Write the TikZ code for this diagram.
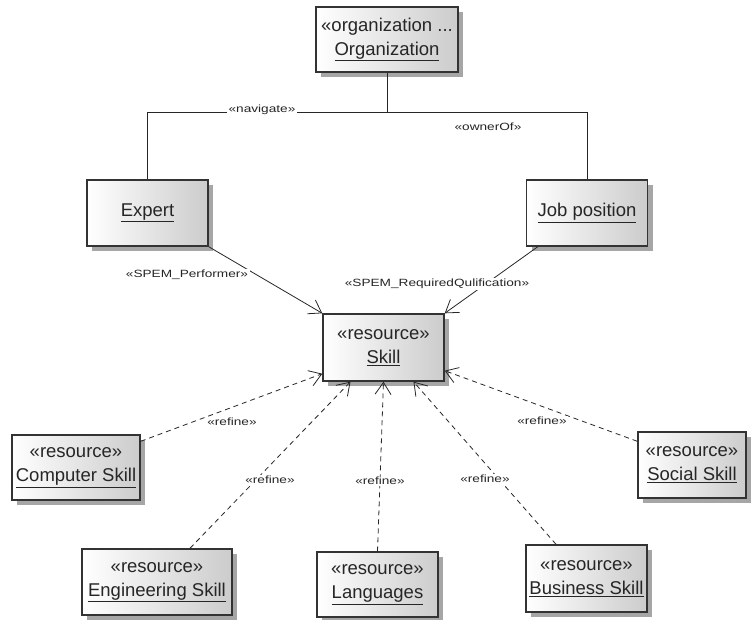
\documentclass[tikz,border=0pt]{standalone}
\usepackage{fontspec}
\setmainfont{Liberation Sans}
\newfontfamily\lblfont[FakeStretch=1.3]{Liberation Sans}
\usetikzlibrary{arrows.meta,shadows}

\begin{document}
\begin{tikzpicture}[x=1pt,y=-1pt]
\tikzstyle{cls}=[draw=black!80,line width=1.4pt,left color=white,right color=black!20,
  drop shadow={shadow xshift=5pt,shadow yshift=-5pt,fill=black!35,opacity=1},
  inner sep=0pt,align=center,text=black!85,font=\fontsize{18.5}{24}\selectfont]
\tikzstyle{lbl}=[fill=white,inner sep=1.5pt,text=black!85,font=\fontsize{10.5}{12}\lblfont]
\tikzstyle{assoc}=[draw=black!85,line width=0.8pt,-{Straight Barb[length=12pt,width=16pt,line width=0.8pt]}]
\tikzstyle{dep}=[assoc,dash pattern=on 5pt off 4pt]
\useasboundingbox (0,0) rectangle (752,619);

\node [cls] (org) at(387,39.5)[minimum width=142pt,minimum height=65pt] {«organization ...\\\underline{Organization}};
\node [cls] (exp) at(147.5,213)[minimum width=121pt,minimum height=66pt] {\underline{Expert}};
\node [cls] (job) at(587,213)[minimum width=121pt,minimum height=66pt] {\underline{Job position}};
\node [cls] (skl) at(383.5,347.5)[minimum width=121pt,minimum height=67pt] {«resource»\\\underline{Skill}};
\node [cls] (cmp) at(76,467.5)[minimum width=128pt,minimum height=65pt] {«resource»\\\underline{Computer Skill}};
\node [cls] (soc) at(692,465)[minimum width=108pt,minimum height=66pt] {«resource»\\\underline{Social Skill}};
\node [cls] (eng) at(157,582)[minimum width=150pt,minimum height=66pt] {«resource»\\\underline{Engineering Skill}};
\node [cls] (lng) at(377.5,584.5)[minimum width=121pt,minimum height=65pt] {«resource»\\\underline{Languages}};
\node [cls] (bus) at(586.5,578.5)[minimum width=121pt,minimum height=67pt] {«resource»\\\underline{Business Skill}};

\coordinate (j) at (387,112);
\draw [draw=black!85,line width=0.8pt] (org) -- (j);
\draw [draw=black!85,line width=0.8pt] (j) -| (exp);
\draw [draw=black!85,line width=0.8pt] (j) -| (job);

\path (exp.south east) edge[assoc] (skl.north west);
\path ([xshift=12pt]job.south west) edge[assoc] (skl.north east);

\path ([yshift=-7pt]cmp.north east) edge[dep] ([yshift=8pt]skl.south west);
\path ([xshift=33pt]eng.north) edge[dep] ([xshift=-33pt]skl.south);
\path (lng.north) edge[dep] (skl.south);
\path ([xshift=-30.5pt]bus.north) edge[dep] ([xshift=30pt]skl.south);
\path ([yshift=-10pt]soc.north west) edge[dep] ([yshift=11pt]skl.south east);

\node [lbl] (nav) at(262,110) {«navigate»};
\node [lbl] (own) at(488,127) {«ownerOf»};
\node [lbl] (perf) at(187,275) {«SPEM\_Performer»};
\node [lbl] (req) at(437,284) {«SPEM\_RequiredQulification»};
\node [lbl] (r1) at(232,422) {«refine»};
\node [lbl] (r2) at(270,480) {«refine»};
\node [lbl] (r3) at(380,481) {«refine»};
\node [lbl] (r4) at(485,479) {«refine»};
\node [lbl] (r5) at(542,421) {«refine»};
\end{tikzpicture}
\end{document}
